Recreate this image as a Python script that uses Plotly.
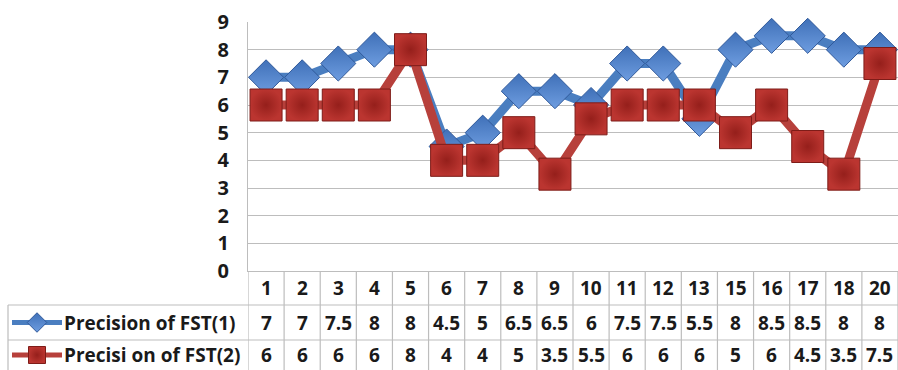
import plotly.graph_objects as go

categories = ["1", "2", "3", "4", "5", "6", "7", "8", "9", "10", "11", "12", "13", "15", "16", "17", "18", "20"]
fst1 = [7, 7, 7.5, 8, 8, 4.5, 5, 6.5, 6.5, 6, 7.5, 7.5, 5.5, 8, 8.5, 8.5, 8, 8]
fst2 = [6, 6, 6, 6, 8, 4, 4, 5, 3.5, 5.5, 6, 6, 6, 5, 6, 4.5, 3.5, 7.5]
fst1_labels = ["7", "7", "7.5", "8", "8", "4.5", "5", "6.5", "6.5", "6", "7.5", "7.5", "5.5", "8", "8.5", "8.5", "8", "8"]
fst2_labels = ["6", "6", "6", "6", "8", "4", "4", "5", "3.5", "5.5", "6", "6", "6", "5", "6", "4.5", "3.5", "7.5"]
series_names = ["Precision of FST(1)", "Precisi on of FST(2)"]
y_ticks = [0, 1, 2, 3, 4, 5, 6, 7, 8, 9]

W, H = 898, 370
PLOT_L, PLOT_T, PLOT_B = 248, 22, 271
ROW_Y = [271, 305, 340, 370]
TABLE_L = 8

BLUE_LINE = "#4a7ec0"
BLUE_MK = "#3f70b8"
BLUE_GRAD = "#6e9de0"
BLUE_EDGE = "#30599a"
RED_LINE = "#b7403b"
RED_MK = "#bb3530"
RED_GRAD = "#951f1b"
RED_EDGE = "#7e1c18"
GRID = "#bdbdbd"
FONT = "Open Sans"
TXT = "#1a1a1a"

idx = list(range(len(categories)))

fig = go.Figure()
fig.add_trace(go.Scatter(
    x=idx, y=fst1, mode="lines+markers", name=series_names[0],
    line=dict(color=BLUE_LINE, width=9),
    marker=dict(symbol="diamond", size=27, color=BLUE_MK,
                gradient=dict(type="vertical", color=BLUE_GRAD),
                line=dict(color=BLUE_EDGE, width=1)),
    xaxis="x", yaxis="y", showlegend=False, cliponaxis=False))
fig.add_trace(go.Scatter(
    x=idx, y=fst2, mode="lines+markers", name=series_names[1],
    line=dict(color=RED_LINE, width=9),
    marker=dict(symbol="square", size=32, color=RED_MK,
                gradient=dict(type="radial", color=RED_GRAD),
                line=dict(color=RED_EDGE, width=1)),
    xaxis="x", yaxis="y", showlegend=False, cliponaxis=False))

key_y = [(ROW_Y[1] + ROW_Y[2]) / 2, (ROW_Y[2] + ROW_Y[3]) / 2]
fig.add_trace(go.Scatter(x=[12, 62], y=[key_y[0]] * 2, mode="lines",
                         line=dict(color=BLUE_LINE, width=5), xaxis="x2", yaxis="y2",
                         showlegend=False, hoverinfo="skip"))
fig.add_trace(go.Scatter(x=[37], y=[key_y[0]], mode="markers",
                         marker=dict(symbol="diamond", size=15, color=BLUE_MK,
                                     gradient=dict(type="vertical", color=BLUE_GRAD),
                                     line=dict(color=BLUE_EDGE, width=1)),
                         xaxis="x2", yaxis="y2", showlegend=False, hoverinfo="skip"))
fig.add_trace(go.Scatter(x=[12, 62], y=[key_y[1]] * 2, mode="lines",
                         line=dict(color=RED_LINE, width=5), xaxis="x2", yaxis="y2",
                         showlegend=False, hoverinfo="skip"))
fig.add_trace(go.Scatter(x=[37], y=[key_y[1]], mode="markers",
                         marker=dict(symbol="square", size=17, color=RED_MK,
                                     gradient=dict(type="radial", color=RED_GRAD),
                                     line=dict(color=RED_EDGE, width=1)),
                         xaxis="x2", yaxis="y2", showlegend=False, hoverinfo="skip"))

shapes = []
n = len(categories)
for i in range(n + 1):
    shapes.append(dict(type="line", xref="x", yref="y2", x0=i - 0.5, x1=i - 0.5,
                       y0=ROW_Y[0], y1=ROW_Y[3], line=dict(color=GRID, width=1.2)))
for yy in ROW_Y[1:3]:
    shapes.append(dict(type="line", xref="x2", yref="y2", x0=TABLE_L, x1=W,
                       y0=yy, y1=yy, line=dict(color=GRID, width=1.2)))
shapes.append(dict(type="line", xref="x2", yref="y2", x0=TABLE_L, x1=TABLE_L,
                   y0=ROW_Y[1], y1=ROW_Y[3], line=dict(color=GRID, width=1.2)))

annotations = []
row_c = [(ROW_Y[k] + ROW_Y[k + 1]) / 2 for k in range(3)]
for i in idx:
    for k, txt in enumerate([categories[i], fst1_labels[i], fst2_labels[i]]):
        annotations.append(dict(x=i, y=row_c[k], xref="x", yref="y2", text=txt,
                                showarrow=False, xanchor="center", yanchor="middle",
                                font=dict(family=FONT, size=19, color=TXT, weight="bold")))
for k, name in enumerate(series_names):
    annotations.append(dict(x=62, y=row_c[k + 1], xref="x2", yref="y2", text=name,
                            showarrow=False, xanchor="left", yanchor="middle",
                            font=dict(family=FONT, size=19, color=TXT, weight="bold")))

fig.update_layout(
    width=W, height=H, margin=dict(l=0, r=0, t=0, b=0, pad=0),
    paper_bgcolor="white", plot_bgcolor="rgba(0,0,0,0)",
    xaxis=dict(domain=[PLOT_L / W, 1], range=[-0.5, n - 0.5], showticklabels=False,
               showgrid=False, zeroline=False, showline=True, linecolor=GRID, linewidth=1.2,
               ticks="", fixedrange=True, automargin=False),
    yaxis=dict(domain=[(H - PLOT_B) / H, (H - PLOT_T) / H], range=[0, 9],
               tickvals=y_ticks, showgrid=True, gridcolor=GRID, gridwidth=1.2,
               zeroline=False, showline=True, linecolor=GRID, linewidth=1.2,
               ticks="", ticklabelstandoff=14, automargin=False,
               tickfont=dict(family=FONT, size=20, color=TXT, weight="bold")),
    xaxis2=dict(domain=[0, 1], range=[0, W], visible=False, anchor="y2", fixedrange=True),
    yaxis2=dict(domain=[0, 1], range=[H, 0], visible=False, anchor="x2", fixedrange=True),
    shapes=shapes, annotations=annotations,
)

fig.write_html("out.html")
